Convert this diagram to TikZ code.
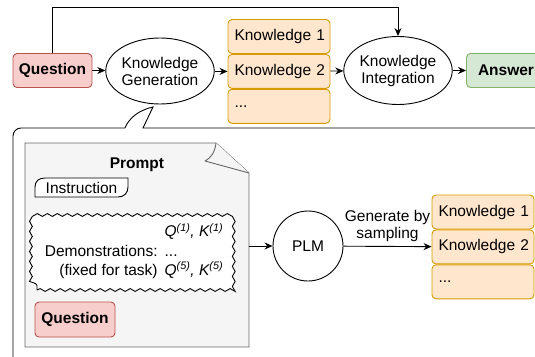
\documentclass[tikz,border=0pt]{standalone}
\usepackage{fontspec}
\setmainfont{Liberation Sans}
\usepackage{xcolor}
\usepackage{tikz}
\usetikzlibrary{positioning}
\usetikzlibrary{calc}
\usetikzlibrary{shapes.geometric}
\usetikzlibrary{arrows.meta}
\usetikzlibrary{decorations.pathmorphing}
\definecolor{qfill}{HTML}{F8CECC}
\definecolor{qdraw}{HTML}{B85450}
\definecolor{kfill}{HTML}{FFE6CC}
\definecolor{kdraw}{HTML}{D79B00}
\definecolor{afill}{HTML}{D5E8D4}
\definecolor{adraw}{HTML}{82B366}
\definecolor{pfill}{HTML}{F5F5F5}
\definecolor{pdraw}{HTML}{666666}

\begin{document}
\begin{tikzpicture}[x=1pt, y=-1pt, line width=0.9pt,
    font=\fontsize{15.5}{17}\selectfont,
    arr/.style={-{Stealth[length=8pt,width=7pt]}},
    question/.style={draw=qdraw, fill=qfill, rounded corners=4pt, minimum width=79pt, minimum height=34pt, inner sep=0pt, font=\fontsize{15.5}{17}\selectfont\bfseries},
    answer/.style={question, draw=adraw, fill=afill},
    knowledge/.style={draw=kdraw, fill=kfill, rounded corners=4pt, text width=94pt, inner xsep=4pt, inner ysep=0pt, minimum height=34pt, align=left},
    oval/.style={ellipse, draw, fill=white, minimum width=92pt, minimum height=66pt, inner sep=0pt, align=center},
    wavy/.style={draw, fill=white, decorate, decoration={snake, segment length=10pt, amplitude=1.4pt}, minimum width=196pt, minimum height=77pt, inner sep=0pt}]
\useasboundingbox (0,0) rectangle (535,356);
\clip (0,0) rectangle (535,356);

\node[question] (q1) at (52.5,70.5) {Question};
\node[oval] (kg) at (160,71) {Knowledge\\Generation};
\node[knowledge] (k1) at (279,36.5) {\hspace{2.5pt}Knowledge 1};
\node[knowledge, below=0pt of k1] (k2) {\hspace{2.5pt}Knowledge 2};
\node[knowledge, below=0pt of k2] (k3) {\hspace{2.5pt}...};
\node[oval, minimum height=68pt] (ki) at (398,70.5) {Knowledge\\Integration};
\node[answer] (ans) at (506,70.5) {Answer};
\coordinate (top) at (0,7);

\draw[arr] (q1) -- (q1 -| kg.west);
\draw[arr] (kg.east |- k2) -- (k2);
\draw[arr] (k2) -- (ki);
\draw[arr] (ki) -- (ans);
\draw[arr] (q1.north) -- (q1.north |- top) -- (ki.north |- top) -- (ki.north);

\draw (540,128) -- (143,128) -- (153,107) .. controls (139,110) and (129,118) .. (125,128);
\draw[rounded corners=8pt] (125,128) -- (13,128) -- (13,362);

\draw[draw=pdraw, fill=pfill] (25,143) -- (216,143) -- (249,173) -- (249,347) -- (25,347) -- cycle;
\draw[draw=pdraw, fill=pfill, line join=round] (216,143) .. controls (215,152) and (211,158) .. (205,161) -- (249,173);
\node[font=\fontsize{15.5}{17}\selectfont\bfseries] (pt) at (137,165) {Prompt};
\draw[fill=white] (35,197) -- (35,187) .. controls (35,181) and (39,178) .. (45,178) -- (128,178) -- (128,187) .. controls (128,193) and (124,197) .. (118,197) -- cycle;
\node (ins) at (81.5,187.5) {Instruction};
\node[wavy] (demo) at (135,251.5) {};
\node (dtx) at (134,252) {\begin{tabular}{@{}r@{\hspace{7pt}}l@{}}
 & \hfill\textit{Q\textsuperscript{(1)}, K\textsuperscript{(1)}}\\[3pt]
Demonstrations: & ...\\
(fixed for task) & \hfill\textit{Q\textsuperscript{(5)}, K\textsuperscript{(5)}}
\end{tabular}};
\node[question, minimum width=80pt, minimum height=35pt] (q2) at (75,319.5) {Question};

\coordinate (pr) at (249,246);
\node[circle, draw, minimum size=70pt, inner sep=0pt] (plm) at (308,246) {PLM};
\node[knowledge] (g1) at (483,212) {\hspace{2.5pt}Knowledge 1};
\node[knowledge, below=0pt of g1] (g2) {\hspace{2.5pt}Knowledge 2};
\node[knowledge, below=0pt of g2] (g3) {\hspace{2.5pt}...};

\draw[arr] (pr) -- (plm);
\draw[arr] (plm) -- (g2) node[midway, above, align=center, inner sep=4pt] (gl) {Generate by\\sampling};
\end{tikzpicture}
\end{document}
